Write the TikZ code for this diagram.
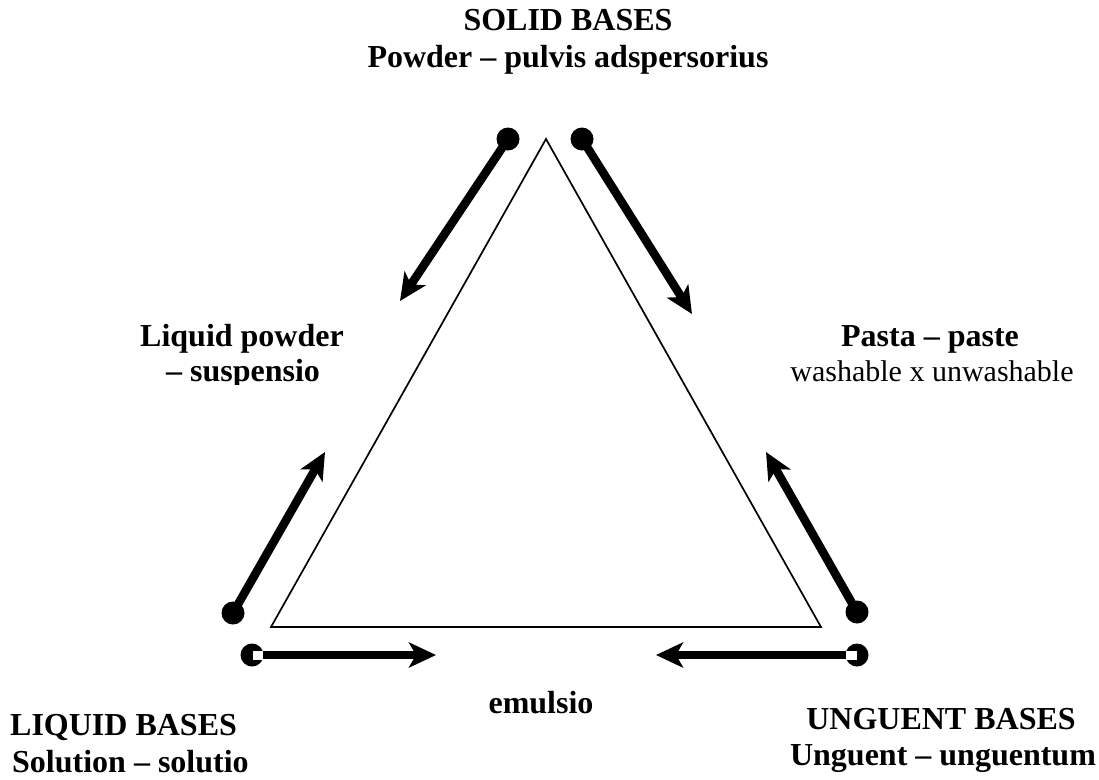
\documentclass[tikz,border=0pt]{standalone}
\usepackage{fontspec}
\setmainfont{Liberation Serif}
\usetikzlibrary{arrows.meta}
\begin{document}
\begin{tikzpicture}[x=1pt,y=-1pt,
  lbl/.style={font=\fontsize{32}{36}\selectfont\bfseries, inner sep=0pt, anchor=base},
  lblr/.style={font=\fontsize{30}{36}\selectfont, inner sep=0pt, anchor=base},
  thick arrow/.style={line width=8.5pt, -{Stealth[length=27pt,width=25pt,inset=7pt]}},
  dot/.style={circle, fill=black, minimum size=23pt, inner sep=0pt},
  tri/.style={line width=1.7pt, line join=miter}]
\useasboundingbox (0,0) rectangle (1099,779);
% triangle
\coordinate (A) at (546,139);
\coordinate (B) at (271,627);
\coordinate (C) at (821,627);
\draw[tri] (A) -- (B) -- (C) -- cycle;
% dots
\node[dot] (d1) at (508,139) {};
\node[dot] (d2) at (582,139) {};
\node[dot] (d3) at (233,613) {};
\node[dot] (d4) at (857,612) {};
\node[dot] (d5) at (252,655) {};
\node[dot] (d6) at (857,655) {};
\fill[white] (253,651) rectangle (263,660);
\fill[white] (846,651) rectangle (857,660);
% arrow ends
\coordinate (t1) at (400,301);
\coordinate (t2) at (692,314);
\coordinate (t3) at (325,452);
\coordinate (t4) at (766,452);
\coordinate (s5) at (263,655);
\coordinate (t5) at (436,655);
\coordinate (s6) at (846,655);
\coordinate (t6) at (656,655);
\draw[thick arrow] (d1.center) -- (t1);
\draw[thick arrow] (d2.center) -- (t2);
\draw[thick arrow] (d3.center) -- (t3);
\draw[thick arrow] (d4.center) -- (t4);
\draw[thick arrow] (s5) -- (t5);
\draw[thick arrow] (s6) -- (t6);
% labels
\node[lbl] (solid1) at (568,30) {SOLID BASES};
\node[lbl] (solid2) at (568,67) {Powder – pulvis adspersorius};
\node[lbl] (liq1) at (242,346) {Liquid powder};
\begin{scope}
\clip (100,355) rectangle (400,384);
\node[lbl] (liq2) at (243,381) {– suspensio};
\end{scope}
\node[lbl] (pasta1) at (930,346) {Pasta – paste};
\node[lblr] (pasta2) at (932,381) {washable x unwashable};
\node[lbl] (emul) at (541,713) {emulsio};
\node[lbl,anchor=base west] (lb1) at (10,735) {LIQUID BASES};
\node[lbl,anchor=base west] (lb2) at (12,772) {Solution – solutio};
\node[lbl] (ub1) at (941,729) {UNGUENT BASES};
\node[lbl] (ub2) at (943,765) {Unguent – unguentum};
\end{tikzpicture}
\end{document}
